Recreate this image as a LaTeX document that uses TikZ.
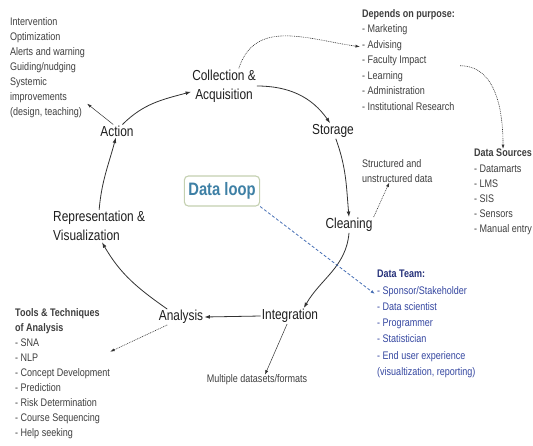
\documentclass[tikz,border=0pt]{standalone}
\usepackage{fontspec}
\setmainfont[FakeStretch=0.82]{Liberation Sans}
\usetikzlibrary{arrows.meta}

\definecolor{stagegray}{RGB}{30,30,30}
\definecolor{notegray}{RGB}{62,62,62}
\definecolor{linegray}{RGB}{50,50,50}
\definecolor{loopteal}{RGB}{62,128,165}
\definecolor{loopframe}{RGB}{196,208,176}
\definecolor{teamnavy}{RGB}{38,50,122}
\definecolor{teamblue}{RGB}{52,70,160}
\definecolor{dashblue}{RGB}{70,110,180}

\begin{document}
\begin{tikzpicture}[x=1pt,y=-1pt,
    stage/.style={font=\fontsize{14.5}{19.5}\selectfont, text=stagegray, inner sep=1pt, align=center},
    notes/.style={font=\fontsize{11}{#1}\selectfont, text=notegray, inner sep=0pt, align=left, anchor=north west},
    notes/.default=15.2,
    loopline/.style={linegray, line width=0.8pt, -{Latex[length=5.5pt,width=3.8pt]}},
    sideline/.style={linegray, line width=0.5pt, -{Latex[length=4.5pt,width=3pt]}},
    dotline/.style={sideline, line width=0.6pt, dash pattern=on 0.9pt off 0.9pt}]
  \useasboundingbox (0,0) rectangle (533,445);

  % stages of the loop
  \node[stage] (coll) at (224,86) {Collection \&\\Acquisition};
  \node[stage] (stor) at (333,131) {Storage};
  \node[stage] (clean) at (349,225) {Cleaning};
  \node[stage] (integ) at (290,316) {Integration};
  \node[stage] (anal) at (181,317) {Analysis};
  \node[stage, align=left, anchor=west] (repr) at (52,226) {Representation \&\\Visualization};
  \node[stage] (act) at (117,131) {Action};

  \node[draw=loopframe, line width=1.1pt, rounded corners=4pt, fill=white, text=loopteal,
        font=\fontsize{18}{20}\selectfont\bfseries, inner xsep=4pt, minimum height=30pt]
        (dloop) at (222,191) {Data loop};

  % side notes
  \node[notes=15] (acts) at (10,17) {Intervention\\Optimization\\Alerts and warning\\Guiding/nudging\\Systemic\\improvements\\(design, teaching)};
  \node[notes=15.5] (purpose) at (362,9) {\textbf{Depends on purpose:}\\- Marketing\\- Advising\\- Faculty Impact\\- Learning\\- Administration\\- Institutional Research};
  \node[notes] (sources) at (474,149) {\textbf{Data Sources}\\- Datamarts\\- LMS\\- SIS\\- Sensors\\- Manual entry};
  \node[notes=15] (structured) at (362,159) {Structured and\\unstructured data};
  \node[notes=16.3, text=teamblue] (team) at (377,270) {\textcolor{teamnavy}{\textbf{Data Team:}}\\- Sponsor/Stakeholder\\- Data scientist\\- Programmer\\- Statistician\\- End user experience\\(visualtization, reporting)};
  \node[notes=15.1] (tools) at (15,308) {\textbf{Tools \& Techniques}\\\textbf{of Analysis}\\- SNA\\- NLP\\- Concept Development\\- Prediction\\- Risk Determination\\- Course Sequencing\\- Help seeking};
  \node[notes, anchor=center] (multi) at (257,380) {Multiple datasets/formats};

  % the loop
  \draw[loopline] (act.50) to[out=45,in=195] (coll.190);
  \draw[loopline] (coll.east) to[out=0,in=125] (stor.110);
  \draw[loopline] (stor.-70) to[out=-70,in=95] (clean.north);
  \draw[loopline] (clean.south) to[out=-95,in=60] (integ.30);
  \draw[loopline] (integ.west) -- (anal.east);
  \draw[loopline] (anal.150) to[out=145,in=-60] (repr.-80);
  \draw[loopline] (repr.north) to[out=85,in=-105] (act.-100);

  % pointers to the notes
  \draw[sideline] (act.120) -- ([xshift=2pt,yshift=14pt]acts.south east);
  \draw[dotline] (coll.50) to[out=72,in=172,looseness=1.1] ([xshift=-2pt,yshift=13pt]purpose.west);
  \draw[dotline] ([xshift=5pt,yshift=-6pt]purpose.east) to[out=0,in=90] (sources.north);
  \draw[dotline] (clean.north east) -- ([xshift=-8pt]structured.south);
  \draw[dashblue, line width=0.8pt, dash pattern=on 3pt off 2pt, -{Latex[length=4.5pt,width=3pt]}]
    (dloop.south east) -- ([xshift=-2pt,yshift=30pt]team.west);
  \draw[sideline] (integ.-110) -- ([xshift=8pt]multi.north);
  \draw[dotline] (anal.-150) -- ([yshift=22pt]tools.east);
\end{tikzpicture}
\end{document}
